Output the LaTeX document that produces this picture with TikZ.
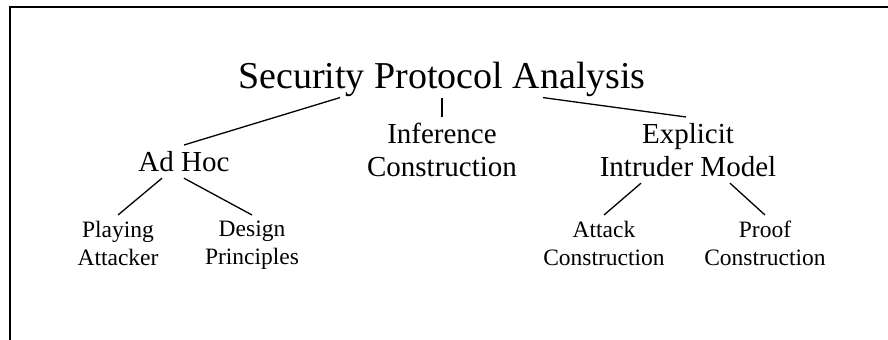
\documentclass[tikz,border=0pt]{standalone}
\usepackage{fontspec}
\setmainfont{Liberation Serif}
\usetikzlibrary{calc}
\tikzset{
    rootlabel/.style={
        font=\fontsize{19pt}{22pt}\selectfont,
        inner sep=0pt,
        anchor=base
    },
    midlabel/.style={
        font=\fontsize{14.5pt}{16.5pt}\selectfont,
        align=center,
        inner sep=3pt,
        anchor=north
    },
    leaflabel/.style={
        font=\fontsize{11.75pt}{14pt}\selectfont,
        align=center,
        inner sep=3pt,
        anchor=north
    },
    branch/.style={line width=0.65pt},
    frame/.style={line width=1pt}
}

\begin{document}
\begin{tikzpicture}[x=0.5pt, y=-0.5pt]
\useasboundingbox (0,0) rectangle (888,340);
% frame (cut off at right and bottom)
\draw[frame] (888,7) -- (10,7) -- (10,340);

\node[rootlabel] (spa) at (442,89) {Security Protocol Analysis};

\node[midlabel] (adhoc) at (184,145) {Ad Hoc};
\node[midlabel] (infer) at (442,117) {Inference\\Construction};
\node[midlabel] (expl) at (688,117) {Explicit\\Intruder Model};

\node[leaflabel] (play) at (118,215) {Playing\\Attacker};
\node[leaflabel] (design) at (252,215) {Design\\Principles};
\node[leaflabel] (attack) at (604,215) {Attack\\Construction};
\node[leaflabel] (proof) at (765,215) {Proof\\Construction};

\draw[branch] ($(spa.south)+(-102,0)$) -- (adhoc.north);
\draw[branch] (spa.south) -- (infer.north);
\draw[branch] ($(spa.south)+(101,0)$) -- ([xshift=-1pt]expl.north);

\draw[branch] ($(adhoc.south)+(-22,0)$) -- (play.north);
\draw[branch] (adhoc.south) -- (design.north);

\draw[branch] ($(expl.south)+(-47,0)$) -- (attack.north);
\draw[branch] ($(expl.south)+(42,0)$) -- (proof.north);
\end{tikzpicture}
\end{document}
